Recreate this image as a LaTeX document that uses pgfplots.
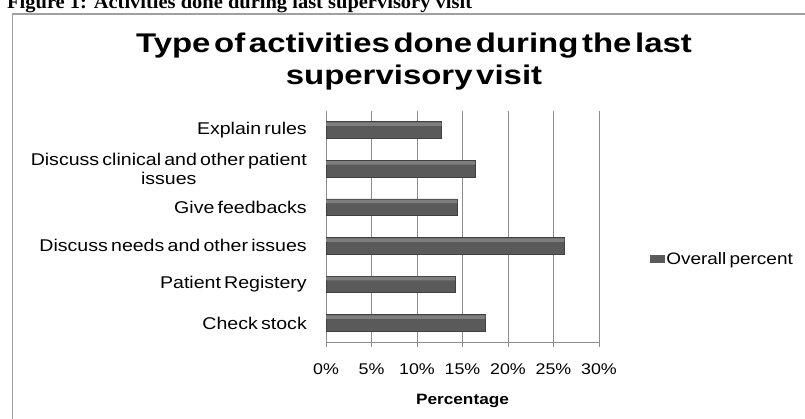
\documentclass[border=0pt]{standalone}
\usepackage{pgfplots}
\pgfplotsset{compat=1.18}
\usepackage{fontspec}
\setmainfont{Liberation Sans}[FakeStretch=1.15, WordSpace=0.6]
\newfontfamily\titlefont{Liberation Sans}[FakeStretch=1.22, WordSpace=0.4]
\newfontfamily\capfont{Liberation Serif}[FakeStretch=1.05]
\definecolor{gridgray}{HTML}{8C8C8C}
\definecolor{bordergray}{HTML}{A0A0A0}
\definecolor{barbody}{HTML}{5A5A5A}
\definecolor{barlight}{HTML}{7E7E7E}
\definecolor{bardark}{HTML}{404040}
\begin{document}
\begin{tikzpicture}[x=1bp,y=1bp]
\useasboundingbox (0,0) rectangle (805,418);
\clip (0,0) rectangle (805,418);
\draw[bordergray, line width=1.5bp] (12.5,-5) -- (12.5,404) -- (810,404);
\node[anchor=base west, inner sep=0pt, font=\capfont\bfseries\fontsize{19.5bp}{21bp}\selectfont] at (7,409) {Figure 1: Activities done during last supervisory visit};
\node[anchor=base, inner sep=0pt, font=\titlefont\bfseries\fontsize{27bp}{32bp}\selectfont] at (414,366) {Type of activities done during the last};
\node[anchor=base, inner sep=0pt, font=\titlefont\bfseries\fontsize{27bp}{32bp}\selectfont] at (414,334) {supervisory visit};
\begin{axis}[
  scale only axis, width=273bp, height=231.6bp,
  at={(326bp,75.7bp)}, anchor=south west,
  bar width=0.43,
  xmin=0, xmax=30, ymin=-0.5, ymax=5.5,
  axis x line*=bottom, axis y line*=left,
  axis line style={gridgray, line width=1bp, -},
  xmajorgrids, grid style={gridgray, line width=1bp},
  xtick={0,5,...,30}, xticklabels={0\%,5\%,10\%,15\%,20\%,25\%,30\%},
  tick align=outside, major tick length=5bp,
  x tick style={gridgray, line width=1bp},
  xticklabel style={font=\fontsize{15.5bp}{17bp}\selectfont, inner sep=0pt, anchor=north, yshift=-16bp},
  ytick={0,1,2,3,4,5},
  yticklabels={Check stock, Patient Registery, Discuss needs and other issues, Give feedbacks, {Discuss clinical and other patient\\issues}, Explain rules},
  y tick style={draw=none},
  yticklabel style={font=\fontsize{17bp}{19bp}\selectfont, align=center, inner sep=0pt, anchor=east, xshift=-14bp},
  xlabel={Percentage},
  xlabel style={font=\bfseries\fontsize{15bp}{17bp}\selectfont, at={(axis description cs:0.5,0)}, anchor=base, inner sep=0pt, yshift=-61.7bp},
  legend style={at={(axis description cs:1.185,0.36)}, anchor=west, draw=none, fill=none, inner sep=0pt, font=\fontsize{16.5bp}{17bp}\selectfont},
  legend cell align=left,
  legend image code/.code={\fill[barbody] (0bp,-3.5bp) rectangle (14bp,3.5bp);},
]
\addplot[xbar, bar shift=0, fill=barbody, draw=bardark, line width=0.6bp]
  coordinates {(17.5,0) (14.2,1) (26.2,2) (14.4,3) (16.4,4) (12.7,5)};
\addlegendentry{Overall percent}
\addplot[xbar, bar shift=0.15, bar width=0.09, fill=barlight, draw=none, forget plot]
  coordinates {(17.5,0) (14.2,1) (26.2,2) (14.4,3) (16.4,4) (12.7,5)};
\end{axis}
\end{tikzpicture}
\end{document}
